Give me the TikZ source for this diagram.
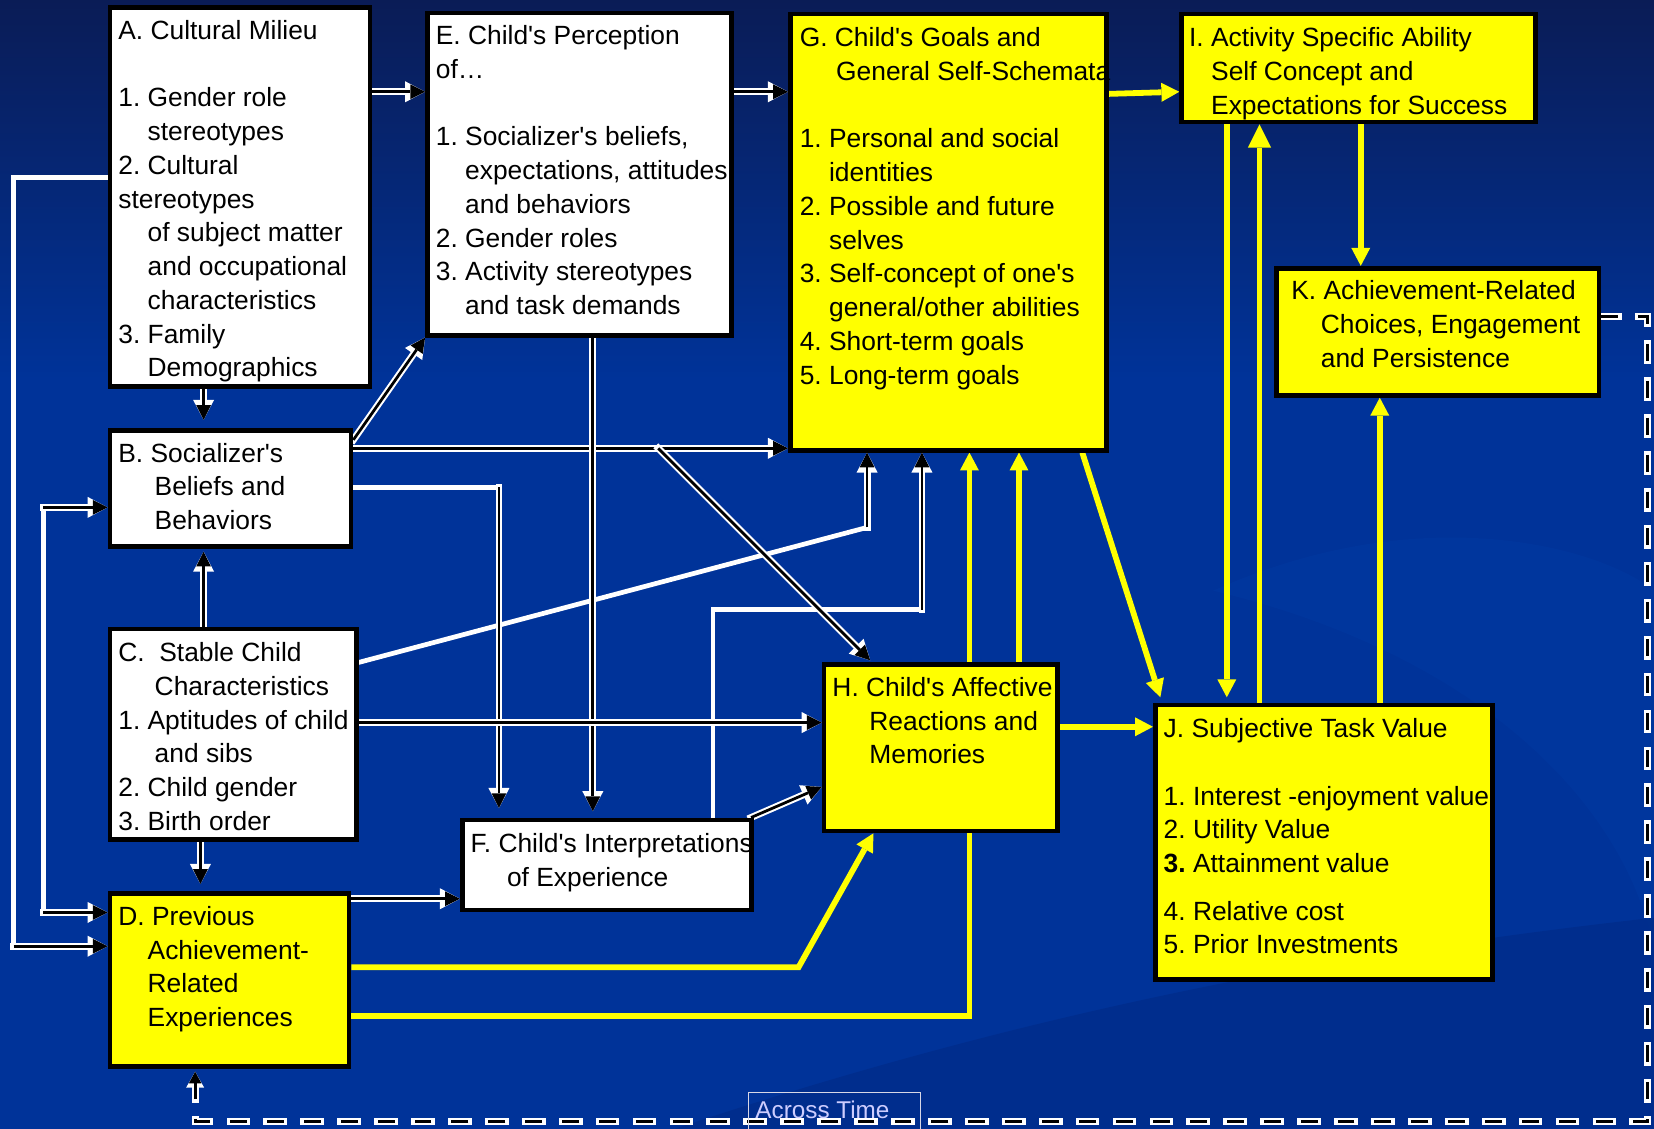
\documentclass[tikz,border=0pt]{standalone}
\usepackage{fontspec}
\setmainfont{Liberation Sans}[Ligatures=TeXOff]
\usetikzlibrary{arrows.meta,calc}
\definecolor{ylw}{RGB}{255,255,0}
\definecolor{bgblue}{RGB}{0,51,153}
\definecolor{bgtop}{RGB}{10,28,86}
\definecolor{sw1}{RGB}{0,44,138}
\definecolor{sw2}{RGB}{0,56,160}
\definecolor{lav}{RGB}{205,205,255}
\definecolor{atline}{RGB}{215,215,230}
\newcommand{\fstr}{\rule{0pt}{23pt}}
\newcommand{\inda}{\hspace*{27.8pt}}
\newcommand{\indb}{\hspace*{34.5pt}}
\newcommand{\mkbox}[6]{\node[box, fill=#6, minimum width={#4-#2-4.5}, minimum height={#5-#3-4.5}] (#1) at ({(#2+#4)/2},{(#3+#5)/2}) {};}
\pgfdeclarelayer{bg}
\pgfdeclarelayer{lines}
\pgfsetlayers{bg,lines,main}
\frenchspacing
\begin{document}
\frenchspacing
\begin{tikzpicture}[x=1pt,y=-1pt,
  box/.style={draw=black, line width=4.5pt, inner sep=0pt, rectangle},
  txt/.style={anchor=north west, inner sep=0pt, align=left, font=\fontsize{25}{32}\selectfont\frenchspacing, text=black},
  wa/.style={draw=black, line width=2.6pt, -{Triangle[length=14pt,width=14pt,line width=0pt]},
    preaction={draw=white, line width=6.5pt, line cap=rect, -{Triangle[length=19pt,width=20pt,line width=0pt]}}},
  ya/.style={draw=ylw, line width=5.5pt, -{Triangle[length=17pt,width=18pt,line width=0pt]}},
  wl/.style={draw=white, line width=4.5pt, line cap=rect},
  dl/.style={draw=black, line width=2.8pt, dash pattern=on 16pt off 19pt, -{Triangle[length=11pt,width=12pt,line width=0pt]},
    preaction={draw=white, line width=6.5pt, line cap=rect, dash pattern=on 16pt off 19pt, -{Triangle[length=15pt,width=17pt,line width=0pt]}}}
]
\useasboundingbox (0,0) rectangle (1568,1070);

% ---------- background ----------
\begin{pgfonlayer}{bg}
\fill[bgblue] (0,0) rectangle (1568,1070);
\shade[top color=bgtop, bottom color=bgblue] (0,0) rectangle (1568,360);
\fill[sw2, opacity=0.6] (1150,560) .. controls (1350,470) and (1520,520) .. (1568,560) -- (1568,900) .. controls (1540,760) and (1400,620) .. (1150,560) -- cycle;
\fill[sw1, opacity=0.8] (640,1070) .. controls (1000,950) and (1300,900) .. (1568,870) -- (1568,1070) -- cycle;
\end{pgfonlayer}

% ---------- boxes ----------
\mkbox{A}{102}{5}{353}{369}{white}
\mkbox{E}{403}{10}{696}{320}{white}
\mkbox{G}{747}{11}{1051}{429}{ylw}
\mkbox{I}{1118}{11}{1458}{118}{ylw}
\mkbox{K}{1208}{252}{1518}{377}{ylw}
\mkbox{B}{102}{406}{335}{520}{white}
\mkbox{C}{102}{594}{340}{798}{white}
\mkbox{D}{102}{845}{333}{1013}{ylw}
\mkbox{F}{436}{775}{715}{865}{white}
\mkbox{H}{779}{628}{1005}{790}{ylw}
\mkbox{J}{1093}{666}{1417}{931}{ylw}

% ---------- texts ----------
\node[txt] (At) at (112,14) {\fstr A. Cultural Milieu\\ \mbox{}\\ 1. Gender role\\ \inda stereotypes\\ 2. Cultural\\ stereotypes\\ \inda of subject matter\\ \inda and occupational\\ \inda characteristics\\ 3. Family\\ \inda Demographics};
\node[txt] (Et) at (413,19) {\fstr E. Child's Perception\\ of…\\ \mbox{}\\ 1. Socializer's beliefs,\\ \inda expectations, attitudes\\ \inda and behaviors\\ 2. Gender roles\\ 3. Activity stereotypes\\ \inda and task demands};
\node[txt] (Gt) at (758,21) {\fstr G. Child's Goals and\\ \indb General Self-Schemata\\ \mbox{}\\ 1. Personal and social\\ \inda identities\\ 2. Possible and future\\ \inda selves\\ 3. Self-concept of one's\\ \inda general/other abilities\\ 4. Short-term goals\\ 5. Long-term goals};
\node[txt] (It) at (1127,21) {\fstr I. Activity Specific Ability\\ \hspace*{21pt}Self Concept and\\ \hspace*{21pt}Expectations for Success};
\node[txt] (Kt) at (1224,261) {\fstr K. Achievement-Related\\ \hspace*{28pt}Choices, Engagement\\ \hspace*{28pt}and Persistence};
\node[txt] (Bt) at (112,415) {\fstr B. Socializer's\\ \indb Beliefs and\\ \indb Behaviors};
\node[txt] (Ct) at (112,604) {\fstr C.\ \ Stable Child\\ \indb Characteristics\\ 1. Aptitudes of child\\ \indb and sibs\\ 2. Child gender\\ 3. Birth order};
\node[txt] (Dt) at (112,854) {\fstr D. Previous\\ \inda Achievement-\\ \inda Related\\ \inda Experiences};
\node[txt] (Ft) at (446,785) {\fstr F. Child's Interpretations\\ \indb of Experience};
\node[txt] (Ht) at (789,637) {\fstr H. Child's Affective\\ \hspace*{35pt}Reactions and\\ \hspace*{35pt}Memories};
\node[txt] (Jt) at (1103,676) {\fstr J. Subjective Task Value\\ \mbox{}\\ 1. Interest -enjoyment value\\ 2. Utility Value\\ \textbf{3.} Attainment value\\[13pt] 4. Relative cost\\ 5. Prior Investments};

\node[draw=atline, line width=1.2pt, inner sep=0pt, minimum width=163, minimum height=45, anchor=north west] (atb) at (709,1035) {};
\node[anchor=base west, inner sep=0pt, text=lav, font=\fontsize{23}{28}\selectfont] (att) at (716,1060) {Across Time};

% ---------- connectors ----------
\begin{pgfonlayer}{lines}
\coordinate (l1) at (13,168);
\coordinate (l2) at (13,897);
\coordinate (m1) at (41,481);
\coordinate (m2) at (41,865);
\coordinate (bf) at (473,462);
\coordinate (cg) at (822,500);
\coordinate (f1) at (676,578);
\coordinate (fg) at (874,578);
\coordinate (br) at (624,425);
\coordinate (d1) at (757,917);
\coordinate (d2) at (919,963);
\coordinate (k1) at (1562,300);
\coordinate (k2) at (1562,1063);
\coordinate (k3) at (185,1063);

% yellow
\draw[ya] (D.east |- d2) -- (d2) -- (G.south -| d2);
\draw[ya] (D.east |- d1) -- (d1) -- (H.south -| 828,0);
\draw[ya] (H.north -| 966,0) -- (G.south -| 966,0);
\draw[ya] (G.east |- 0,89) -- (I.west |- 0,87);
\draw[ya] (G.south -| 1026,0) -- ($(J.north west)+(7,-5)$);
\draw[ya] (H.east |- 0,689) -- (J.west |- 0,689);
\draw[ya] (I.south -| 1163,0) -- ($(J.north -| 1163,0)+(0,-5)$);
\draw[ya, -{Triangle[length=22pt,width=22pt,line width=0pt]}] (J.north -| 1194,0) -- (I.south -| 1194,0);
\draw[ya] (I.south -| 1290,0) -- (K.north -| 1290,0);
\draw[ya] (J.north -| 1308,0) -- (K.south -| 1308,0);

% white plain segments
\draw[wl] (A.west |- l1) -- (l1) -- (l2);
\draw[wl] (m1) -- (m2);
\draw[wl] (B.east |- bf) -- (bf);
\draw[wl] (C.east |- 0,628) -- (cg);
\draw[wl] (F.north -| f1) -- (f1) -- (fg);

% outlined arrows
\draw[wa] (l2) -- (D.west |- l2);
\draw[wa] (m1) -- (B.west |- m1);
\draw[wa] (m2) -- (D.west |- m2);
\draw[wa] (bf) -- ($(F.north -| bf)+(0,-9)$);
\draw[wa] (cg) -- (G.south -| cg);
\draw[wa] (fg) -- (G.south -| fg);
\draw[wa] (A.east |- 0,87) -- (E.west |- 0,87);
\draw[wa] (E.east |- 0,87) -- (G.west |- 0,87);
\draw[wa] (A.south -| 193,0) -- ($(B.north -| 193,0)+(0,-8)$);
\draw[wa] ($(B.north east)+(0,11)$) -- (E.south west);
\draw[wa] (B.east |- br) -- (G.west |- br);
\draw[wa] (br) -- ($(H.north west)+(46,-2)$);
\draw[wa] (E.south -| 562,0) -- ($(F.north -| 562,0)+(0,-6)$);
\draw[wa] (C.east |- 0,685) -- (H.west |- 0,685);
\draw[wa] ($(F.north east)+(-3,0)$) -- (H.west |- 0,746);
\draw[wa] (C.south -| 190,0) -- ($(D.north -| 190,0)+(0,-7)$);
\draw[wa] (C.north -| 193,0) -- ($(B.south -| 193,0)+(0,3)$);
\draw[wa] (D.east |- 0,852) -- (F.west |- 0,852);

% across time loop
\draw[dl] (K.east |- k1) -- (k1) -- (k2) -- (k3) -- ($(D.south -| k3)+(0,3)$);
\end{pgfonlayer}
\end{tikzpicture}
\end{document}
